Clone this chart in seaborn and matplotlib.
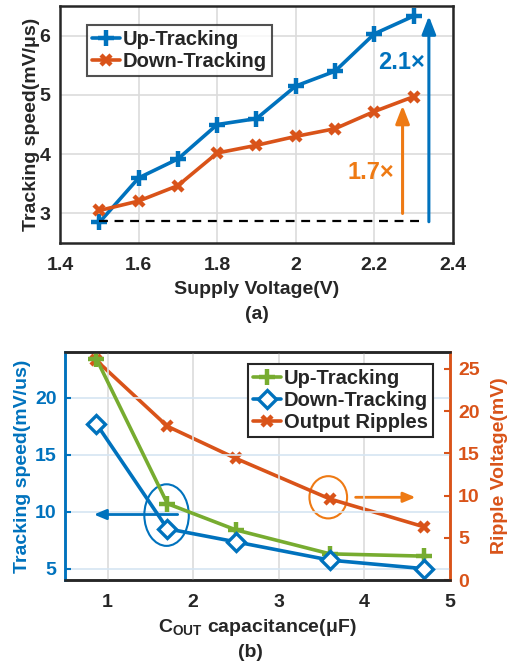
import matplotlib
matplotlib.use("Agg")
import matplotlib.pyplot as plt
import seaborn as sns
import numpy as np
from matplotlib.patches import Ellipse
from matplotlib.lines import Line2D

sns.set_theme(style="white")
plt.rcParams['font.family'] = ['Liberation Sans', 'DejaVu Sans']
plt.rcParams['font.weight'] = 'bold'
plt.rcParams['axes.labelweight'] = 'bold'
plt.rcParams['mathtext.fontset'] = 'custom'
plt.rcParams['mathtext.bf'] = 'Liberation Sans:bold'

# ---- data panel (a)
supply_v = [1.5, 1.6, 1.7, 1.8, 1.9, 2.0, 2.1, 2.2, 2.3]
up_a = [2.85, 3.6, 3.92, 4.5, 4.6, 5.15, 5.4, 6.03, 6.33]
down_a = [3.05, 3.21, 3.47, 4.02, 4.15, 4.3, 4.43, 4.72, 4.97]
xticks_a = [1.4, 1.6, 1.8, 2.0, 2.2, 2.4]
xticklabels_a = ["1.4", "1.6", "1.8", "2", "2.2", "2.4"]
yticks_a = [3, 4, 5, 6]

# ---- data panel (b)
cout = [0.87, 1.7, 2.5, 3.6, 4.7]
up_b = [23.4, 10.7, 8.4, 6.3, 6.1]
down_b = [17.7, 8.5, 7.35, 5.75, 5.0]
ripple_b = [26.0, 18.2, 14.4, 9.6, 6.3]

BLUE = "#0072BD"
ORANGE = "#D95319"
GREEN = "#77AC30"
LORANGE = "#EE7A14"
DARK = "#262626"
TS = 14   # tick size
LS = 14   # label size
GS = 14.5   # legend size

fig = plt.figure(figsize=(5.14, 6.66), dpi=100)

# ================= panel (a)
ax1 = fig.add_axes([0.117, 0.635, 0.764, 0.356])
sns.lineplot(x=supply_v, y=up_a, ax=ax1, color=BLUE, lw=2.6, sort=False)
ax1.plot(supply_v, up_a, ls='none', marker='+', ms=11, mew=3.2, color=BLUE)
sns.lineplot(x=supply_v, y=down_a, ax=ax1, color=ORANGE, lw=2.6, sort=False)
ax1.plot(supply_v, down_a, ls='none', marker='x', ms=7.5, mew=3.2, color=ORANGE)
ax1.plot([1.5, 2.33], [2.87, 2.87], ls=(0, (4, 3)), color='black', lw=1.6)
ax1.annotate("", xy=(2.339, 6.33), xytext=(2.339, 2.86),
             arrowprops=dict(arrowstyle='-|>,head_width=0.35,head_length=0.9',
                             color=BLUE, lw=2.2, shrinkA=0, shrinkB=0))
ax1.annotate("", xy=(2.272, 4.82), xytext=(2.272, 3.0),
             arrowprops=dict(arrowstyle='-|>,head_width=0.35,head_length=0.9',
                             color=LORANGE, lw=2.2, shrinkA=0, shrinkB=0))
ax1.text(2.33, 5.55, "2.1×", color=BLUE, fontsize=17, fontweight='bold',
         ha='right', va='center')
ax1.text(2.25, 3.69, "1.7×", color=LORANGE, fontsize=17, fontweight='bold',
         ha='right', va='center')
ax1.set_xlim(1.4, 2.4)
ax1.set_ylim(2.5, 6.5)
ax1.set_xticks(xticks_a)
ax1.set_xticklabels(xticklabels_a)
ax1.set_yticks(yticks_a)
ax1.grid(True, color='#DCDCDC', lw=1.2)
ax1.tick_params(axis='x', labelsize=TS, colors=DARK, direction='in',
                length=4, width=1.5, pad=10)
ax1.tick_params(axis='y', labelsize=TS, colors=DARK, direction='in',
                length=4, width=1.5, pad=7)
for lab in ax1.get_xticklabels() + ax1.get_yticklabels():
    lab.set_fontweight('bold')
for s in ax1.spines.values():
    s.set_color(DARK)
    s.set_linewidth(1.8)
ax1.set_xlabel("Supply Voltage(V)", fontsize=LS, fontweight='bold',
               color=DARK, labelpad=5)
ax1.set_ylabel("Tracking speed(mV/μs)", fontsize=LS, fontweight='bold',
               color=DARK, labelpad=0)
h1 = [Line2D([], [], color=BLUE, lw=2.6, marker='+', ms=11, mew=3.2),
      Line2D([], [], color=ORANGE, lw=2.6, marker='x', ms=7.5, mew=3.2)]
leg = ax1.legend(h1, ["Up-Tracking", "Down-Tracking"], loc='upper left',
                 bbox_to_anchor=(0.068, 0.92), frameon=True,
                 fancybox=False, edgecolor=DARK, handlelength=1.4,
                 handletextpad=0.15, borderpad=0.25, labelspacing=0.15,
                 borderaxespad=0, prop={'weight': 'bold', 'size': GS})
leg.get_frame().set_linewidth(1.5)
fig.text(0.5, 0.528, "(a)", ha='center', va='center', fontsize=LS,
         fontweight='bold', color=DARK)

# ================= panel (b)
ax2 = fig.add_axes([0.126, 0.129, 0.749, 0.3425])
ax3 = ax2.twinx()
sns.lineplot(x=cout, y=up_b, ax=ax2, color=GREEN, lw=2.6, sort=False)
ax2.plot(cout, up_b, ls='none', marker='+', ms=11, mew=3.2, color=GREEN)
sns.lineplot(x=cout, y=down_b, ax=ax2, color=BLUE, lw=2.6, sort=False)
ax2.plot(cout, down_b, ls='none', marker='D', ms=9, mew=2.4, color=BLUE,
         mfc='white')
sns.lineplot(x=cout, y=ripple_b, ax=ax3, color=ORANGE, lw=2.6, sort=False)
ax3.plot(cout, ripple_b, ls='none', marker='x', ms=7.5, mew=3.2, color=ORANGE)

ax2.set_xlim(0.5, 5)
ax2.set_ylim(4, 24)
ax3.set_ylim(0, 27)
ax2.set_xticks([1, 2, 3, 4, 5])
ax2.set_yticks([5, 10, 15, 20])
ax3.set_yticks([0, 5, 10, 15, 20, 25])
ax2.grid(False)
ax3.grid(False)
for xv in [1, 2, 3, 4]:
    ax2.axvline(xv, color='#DCDCDC', lw=1.2, zorder=0)
for yv in [5, 10, 15, 20]:
    ax2.axhline(yv, color='#D5E5F2', lw=1.2, zorder=0)
ax2.set_zorder(ax3.get_zorder() + 1)
ax2.patch.set_visible(False)

ax2.add_patch(Ellipse((1.69, 9.7), 0.52, 5.4, fill=False, edgecolor=BLUE,
                      lw=1.5))
ax2.annotate("", xy=(0.84, 9.75), xytext=(1.82, 9.75),
             arrowprops=dict(arrowstyle='-|>,head_width=0.25,head_length=0.6',
                             color=BLUE, lw=2, shrinkA=0, shrinkB=0))
ax3.add_patch(Ellipse((3.58, 9.8), 0.44, 5.0, fill=False, edgecolor=LORANGE,
                      lw=1.5))
ax3.annotate("", xy=(4.6, 9.8), xytext=(3.9, 9.8),
             arrowprops=dict(arrowstyle='-|>,head_width=0.25,head_length=0.6',
                             color=LORANGE, lw=2, shrinkA=0, shrinkB=0))

ax2.tick_params(axis='x', labelsize=TS, colors=DARK, direction='in',
                length=4, width=1.5, pad=10)
ax2.tick_params(axis='y', labelsize=TS, colors=BLUE, direction='in',
                length=4, width=1.5, pad=6)
ax3.tick_params(axis='y', labelsize=TS, colors=ORANGE, direction='in',
                length=4, width=1.5, pad=6)
for lab in ax2.get_xticklabels() + ax2.get_yticklabels() + ax3.get_yticklabels():
    lab.set_fontweight('bold')
for ax in (ax2, ax3):
    for s in ax.spines.values():
        s.set_color(DARK)
        s.set_linewidth(1.8)
ax3.spines['left'].set_color(BLUE)
ax3.spines['right'].set_color(ORANGE)
ax2.spines['left'].set_color(BLUE)
ax2.spines['right'].set_color(ORANGE)

ax2.set_xlabel("C$_{\\mathbf{OUT}}$ capacitance(μF)", fontsize=LS,
               fontweight='bold', color=DARK, labelpad=4)
ax2.set_ylabel("Tracking speed(mV/us)", fontsize=LS, fontweight='bold',
               color=BLUE, labelpad=3)
ax3.set_ylabel("Ripple Voltage(mV)", fontsize=LS, fontweight='bold',
               color=ORANGE, labelpad=8)

h2 = [Line2D([], [], color=GREEN, lw=2.6, marker='+', ms=11, mew=3.2),
      Line2D([], [], color=BLUE, lw=2.6, marker='D', ms=9, mew=2.4, mfc='white'),
      Line2D([], [], color=ORANGE, lw=2.6, marker='x', ms=7.5, mew=3.2)]
leg2 = ax2.legend(h2, ["Up-Tracking", "Down-Tracking", "Output Ripples"],
                  loc='upper left', bbox_to_anchor=(0.475, 0.947),
                  frameon=True, fancybox=False, edgecolor=DARK,
                  handlelength=1.4, handletextpad=0.15, borderpad=0.25,
                  labelspacing=0.15, borderaxespad=0,
                  prop={'weight': 'bold', 'size': GS})
leg2.get_frame().set_linewidth(1.5)
leg2.get_frame().set_alpha(1)
fig.text(0.487, 0.021, "(b)", ha='center', va='center', fontsize=LS,
         fontweight='bold', color=DARK)

fig.savefig("out.png", dpi=100)
